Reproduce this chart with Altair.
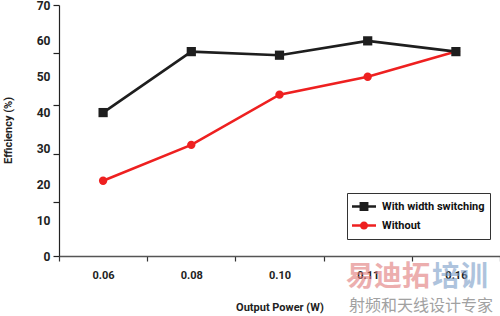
import altair as alt
import pandas as pd

# ---- data ----
power = ["0.06", "0.08", "0.10", "0.11", "0.16"]
with_switching = [40, 57, 56, 60, 57]
without = [21, 31, 45, 50, 57]
series = ["With width switching", "Without"]
y_label_values = [0, 10, 20, 30, 40, 50, 60, 70]
y_tick_values = [0, 15, 28.5, 42, 56.5, 70]
watermark = ["易迪拓", "培训", "射频和天线设计专家"]

colors = ["#1e1e1e", "#ee2020"]
FONT = "Roboto, Liberation Sans, sans-serif"
CJK = "Noto Sans CJK SC"

df = pd.DataFrame({
    "power": power * 2,
    "eff": with_switching + without,
    "series": [series[0]] * len(power) + [series[1]] * len(power),
})

x_scale = alt.Scale(type="band", paddingInner=0, paddingOuter=0)
y_scale = alt.Scale(domain=[0, 70], nice=False, zero=True)

x_axis = alt.Axis(
    title="Output Power (W)", tickBand="extent", labelAngle=0, tickSize=5,
    tickColor="#333", tickWidth=1.2, domainColor="#555", domainWidth=1.6,
    labelPadding=8, labelFont=FONT, labelFontSize=11, labelFontWeight="bold",
    labelColor="#222", titleFont=FONT, titleFontSize=11, titleFontWeight="bold",
    titleColor="#222", titleY=51, titleBaseline="middle", grid=False,
)
y_label_axis = alt.Axis(
    values=y_label_values, ticks=False, tickSize=0, labelPadding=9,
    domainColor="#222", domainWidth=1.2, grid=False, orient="left",
    labelFlush=False, labelOverlap=False,
    labelFont=FONT, labelFontSize=12, labelFontWeight="bold", labelColor="#222",
    title="Efficiency (%)", titleFont=FONT, titleFontSize=11, titleFontWeight="bold",
    titleColor="#222", titleX=-51, titleY=125, titleAngle=270,
    titleAlign="center", titleBaseline="middle",
)
y_tick_axis = alt.Axis(
    values=y_tick_values, labels=False, ticks=True, tickSize=6, tickColor="#222",
    tickWidth=1.2, domain=False, grid=False, orient="left", title=None,
)


def series_df(name):
    return df[df["series"] == name]


X = alt.X("power:O", sort=power, scale=x_scale, axis=x_axis)

red_line = alt.Chart(series_df(series[1])).mark_line(
    color=colors[1], strokeWidth=2.6
).encode(x=X, y=alt.Y("eff:Q", scale=y_scale, axis=y_tick_axis))
red_pts = alt.Chart(series_df(series[1])).mark_point(
    shape="circle", filled=True, opacity=1, size=70, color=colors[1]
).encode(x=X, y=alt.Y("eff:Q", scale=y_scale, axis=None))
black_line = alt.Chart(series_df(series[0])).mark_line(
    color=colors[0], strokeWidth=2.6
).encode(x=X, y=alt.Y("eff:Q", scale=y_scale, axis=y_label_axis))
black_pts = alt.Chart(series_df(series[0])).mark_point(
    shape="square", filled=True, opacity=1, size=85, color=colors[0]
).encode(x=X, y=alt.Y("eff:Q", scale=y_scale, axis=None))

sq_path = "M-1,-0.1H1V0.1H-1Z M-0.37,-0.37H0.37V0.37H-0.37Z"
ci_path = "M-1,-0.1H1V0.1H-1Z M-0.34,0A0.34,0.34 0 1,1 0.34,0A0.34,0.34 0 1,1 -0.34,0Z"

leg = dict(
    orient="none", legendX=288, legendY=188, title=None,
    strokeColor="#333", fillColor="white", padding=5,
    symbolSize=576, symbolStrokeWidth=0, labelOffset=6,
    clipHeight=17, rowPadding=2,
    labelFont=FONT, labelFontSize=11, labelFontWeight="bold", labelColor="#111",
)
legend_layer = alt.Chart(df).mark_point(filled=True, opacity=1).encode(
    color=alt.Color("series:N", scale=alt.Scale(domain=series, range=colors),
                    legend=alt.Legend(**leg)),
    shape=alt.Shape("series:N", scale=alt.Scale(domain=series, range=[sq_path, ci_path]),
                    legend=alt.Legend(**leg)),
).transform_filter("false")

wm1 = alt.Chart(pd.DataFrame({"t": [watermark[0]]})).mark_text(
    font=CJK, fontSize=28, fontWeight="bold", color="#e07a7a", opacity=0.6,
    align="left", baseline="middle",
).encode(text="t:N", x=alt.value(287), y=alt.value(273))
wm2 = alt.Chart(pd.DataFrame({"t": [watermark[1]]})).mark_text(
    font=CJK, fontSize=28, fontWeight="bold", color="#7a9cc8", opacity=0.6,
    align="left", baseline="middle",
).encode(text="t:N", x=alt.value(373), y=alt.value(273))
wm3 = alt.Chart(pd.DataFrame({"t": [watermark[2]]})).mark_text(
    font=CJK, fontSize=16, color="#8a8a8a", opacity=0.8,
    align="center", baseline="middle",
).encode(text="t:N", x=alt.value(362), y=alt.value(301))

chart = alt.layer(
    red_line, black_line, red_pts, black_pts, legend_layer, wm1, wm2, wm3
).resolve_axis(y="independent").properties(
    width=441, height=251,
    padding={"left": 59, "top": 5, "right": 0, "bottom": 60},
    autosize=alt.AutoSizeParams(type="none"),
    background="white",
).configure_view(stroke=None)

chart.save("out.html", embed_options={"renderer": "svg", "actions": False})
